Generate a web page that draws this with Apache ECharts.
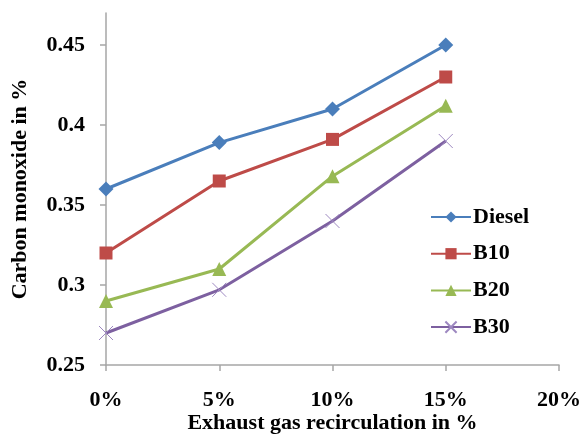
<!DOCTYPE html>
<html><head><meta charset="utf-8">
<script src="https://cdn.jsdelivr.net/npm/echarts@6/dist/echarts.min.js"></script>
<style>html,body{margin:0;padding:0;background:#fff}#c{width:582px;height:437px}</style>
</head><body><div id="c"></div>
<script>
const xValues = [0, 5, 10, 15];
const diesel = [0.36, 0.389, 0.41, 0.45];
const b10 = [0.32, 0.365, 0.391, 0.43];
const b20 = [0.29, 0.31, 0.368, 0.412];
const b30 = [0.27, 0.297, 0.34, 0.39];
const seriesNames = ['Diesel', 'B10', 'B20', 'B30'];
const yTicks = [0.25, 0.3, 0.35, 0.4, 0.45];
const xTicks = [0, 5, 10, 15, 20];

const font = 'Liberation Serif';
const pair = arr => xValues.map((x, i) => [x, arr[i]]);
const mk = (name, data, color, symbol, size, extra) => Object.assign({
  name, type: 'line', data: pair(data), symbol, symbolSize: size,
  lineStyle: { color, width: 3 }, itemStyle: { color }, animation: false
}, extra || {});

const chart = echarts.init(document.getElementById('c'));
chart.setOption({
  animation: false,
  grid: { left: 106, right: 23, top: 13, bottom: 72, containLabel: false, outerBoundsMode: 'none' },
  legend: {
    orient: 'vertical', left: 425, top: 201, itemWidth: 40, itemHeight: 14, itemGap: 14.7,
    textStyle: { fontFamily: font, fontWeight: 'bold', fontSize: 22, color: '#000', lineHeight: 22, padding: [0,0,0,-3] },
    data: seriesNames
  },
  xAxis: {
    type: 'value', min: 0, max: 20, interval: 5,
    name: 'Exhaust gas recirculation in %', nameLocation: 'middle', nameGap: 47, nameMoveOverlap: false,
    nameTextStyle: { fontFamily: font, fontWeight: 'bold', fontSize: 22, color: '#000' },
    axisLine: { show: true, lineStyle: { color: '#a6a6a6', width: 1.5 } },
    axisTick: { show: true, length: 6, inside: false, lineStyle: { color: '#a6a6a6', width: 1.5 } },
    splitLine: { show: false },
    axisLabel: { customValues: xTicks, formatter: v => v + '%', margin: 24, fontFamily: font, fontWeight: 'bold', fontSize: 22, color: '#000' }
  },
  yAxis: {
    type: 'value', min: 0.25, max: 0.47, interval: 0.05,
    name: 'Carbon monoxide in %', nameLocation: 'middle', nameGap: 75, nameMoveOverlap: false,
    nameTextStyle: { fontFamily: font, fontWeight: 'bold', fontSize: 22, color: '#000' },
    axisLine: { show: true, lineStyle: { color: '#a6a6a6', width: 1.5 } },
    axisTick: { show: true, length: 6, customValues: yTicks, lineStyle: { color: '#a6a6a6', width: 1.5 } },
    splitLine: { show: false },
    axisLabel: { customValues: yTicks, formatter: v => String(+v.toFixed(2)), margin: 21, fontFamily: font, fontWeight: 'bold', fontSize: 22, color: '#000' }
  },
  series: [
    mk('Diesel', diesel, '#4a7ebb', 'diamond', 15),
    mk('B10', b10, '#be4b48', 'rect', 13),
    mk('B20', b20, '#98b954', 'triangle', 14),
    mk('B30', b30, '#7d60a0', 'path://M0,0L10,10M10,0L0,10', 14, { itemStyle: { color: 'none', borderColor: '#9d88c0', borderWidth: 1 } })
  ]
});
</script></body></html>
